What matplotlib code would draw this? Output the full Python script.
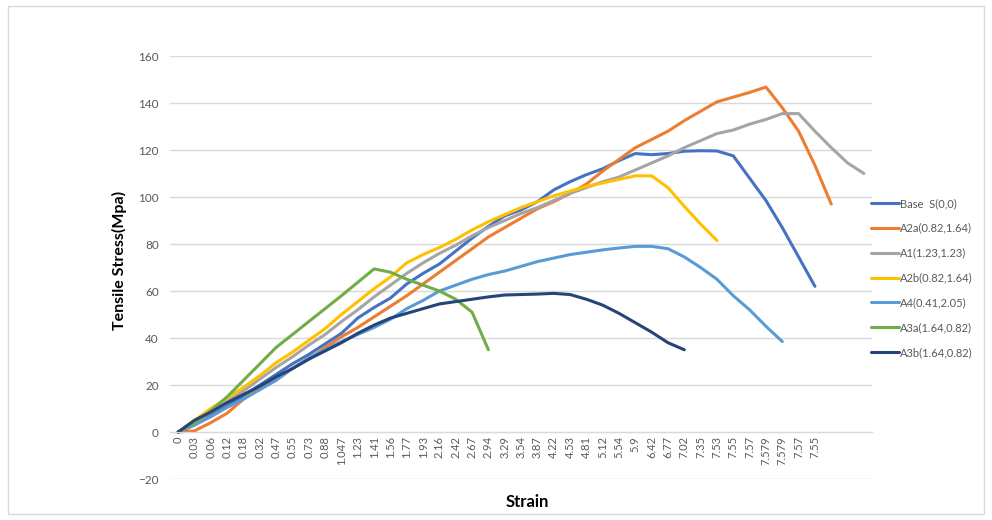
import matplotlib.pyplot as plt
from matplotlib.patches import Rectangle

# strain categories (x axis is categorical, like the Excel sheet)
strain = ['0', '0.03', '0.06', '0.12', '0.18', '0.32', '0.47', '0.55', '0.73', '0.88',
          '1.047', '1.23', '1.41', '1.56', '1.77', '1.93', '2.16', '2.42', '2.67', '2.94',
          '3.29', '3.54', '3.87', '4.22', '4.53', '4.81', '5.12', '5.54', '5.9', '6.42',
          '6.77', '7.02', '7.35', '7.53', '7.55', '7.57', '7.579', '7.579', '7.57', '7.55',
          '', '', '']

base_s = [0, 3, 7, 11, 15.5, 20, 24.5, 29, 33, 37.5, 42, 48.5, 53, 57, 63, 67.5, 71.5, 77, 82.5, 87.5,
          92, 94.5, 98, 103, 106.5, 109.5, 112, 115.5, 118.5, 118, 118.5, 119.5, 119.7, 119.6, 117.5,
          108, 98.5, 87, 74.5, 62]
a2a = [0, 0.5, 4, 8, 14, 19, 23, 27, 31, 36, 40.5, 44.5, 49, 53.5, 58, 63, 68, 73, 78, 83,
       87, 91, 95, 98, 101.5, 105.5, 111, 116, 121, 124.5, 128, 132.5, 136.5, 140.5, 142.5,
       144.5, 146.8, 138, 128, 113.5, 97]
a1 = [0, 4, 8.5, 13, 17.5, 22.5, 27.5, 32, 37, 41.5, 47, 52, 57.5, 62.5, 67.5, 72, 76, 79.5, 83.5, 87,
      90, 93, 95.5, 98.5, 101.5, 104, 106.5, 108.5, 111.5, 114.5, 117.5, 121, 124, 127, 128.5,
      131, 133, 135.5, 135.5, 128, 121, 114.5, 110]
a2b = [0, 5, 10, 14.5, 19, 24, 29.5, 34, 39, 44, 50, 55.5, 61, 66, 72, 75.5, 78.5, 82, 86, 89.5,
       92.5, 95.5, 98, 100.5, 102.5, 104.5, 106, 107.5, 109, 109, 104, 96, 88.5, 81.5]
a4 = [0, 3, 6.5, 10.5, 14, 18, 22, 27, 31.5, 35, 38.5, 41.5, 44.5, 48, 52.5, 56, 60, 62.5, 65, 67,
      68.5, 70.5, 72.5, 74, 75.5, 76.5, 77.5, 78.3, 79, 79, 78, 74.5, 70, 65, 58, 52, 45, 38.5]
a3a = [0, 4, 9, 15, 22, 29, 36, 41.5, 47, 52.5, 58, 63.7, 69.4, 68, 65, 62.5, 60, 56.5, 51, 35]
a3b = [0, 5, 8.5, 12.5, 16, 19.5, 23.5, 27, 31, 34.5, 38, 42, 45.5, 48.5, 50.5, 52.5, 54.5, 55.5, 56.5,
       57.5, 58.3, 58.5, 58.7, 59, 58.5, 56.5, 54, 50.5, 46.5, 42.5, 38, 35]

series = [
    ('Base  S(0,0)', base_s, '#4472C4'),
    ('A2a(0.82,1.64)', a2a, '#ED7D31'),
    ('A1(1.23,1.23)', a1, '#A5A5A5'),
    ('A2b(0.82,1.64)', a2b, '#FFC000'),
    ('A4(0.41,2.05)', a4, '#5B9BD5'),
    ('A3a(1.64,0.82)', a3a, '#70AD47'),
    ('A3b(1.64,0.82)', a3b, '#264478'),
]

plt.rcParams['font.family'] = ['Lato', 'DejaVu Sans']

fig = plt.figure(figsize=(9.92, 5.2), dpi=100)
ax = fig.add_axes([0.1714, 0.0788, 0.7077, 0.8135])

for name, vals, col in series:
    ax.plot(range(len(vals)), vals, color=col, lw=2.2, label=name,
            solid_joinstyle='round', solid_capstyle='round')

ax.set_xlim(-0.5, len(strain) - 0.5)
ax.set_ylim(-20, 160)
ax.set_yticks(range(-20, 161, 20))
ax.yaxis.grid(True, color='#D9D9D9', lw=1)
ax.set_axisbelow(True)

# category axis sits at zero, labels run vertically below it
ax.spines['bottom'].set_position(('data', 0))
ax.spines['bottom'].set_color('#D9D9D9')
for s in ['top', 'right', 'left']:
    ax.spines[s].set_visible(False)
ax.set_xticks(range(len(strain)))
ax.set_xticklabels(strain, rotation=90, fontsize=8, color='#595959')
ax.tick_params(axis='x', length=0, pad=3)
ax.tick_params(axis='y', length=0, labelsize=8.5, labelcolor='#595959', pad=8)

fig.text(0.532, 0.035, 'Strain', ha='center', va='center', fontsize=12, fontweight='bold')
fig.text(0.12, 0.5, 'Tensile Stress(Mpa)', ha='center', va='center', rotation=90,
         fontsize=11.5, fontweight='bold')

fig.legend(loc='center left', bbox_to_anchor=(0.874, 0.4654), frameon=False, fontsize=8,
           labelspacing=1.25, handlelength=2.5, handletextpad=0.1, borderaxespad=0,
           labelcolor='#595959')

fig.patches.append(Rectangle((0.008, 0.012), 0.984, 0.976, transform=fig.transFigure,
                             fill=False, edgecolor='#D9D9D9', lw=1))

plt.savefig('out.png', dpi=100)
